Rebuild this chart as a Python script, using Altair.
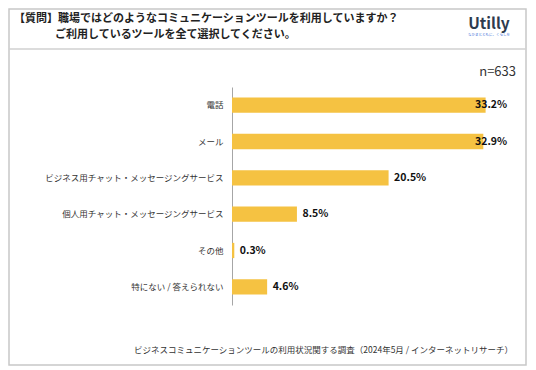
import altair as alt
import pandas as pd

categories = ["電話", "メール", "ビジネス用チャット・メッセージングサービス",
              "個人用チャット・メッセージングサービス", "その他", "特にない / 答えられない"]
values = [33.2, 32.9, 20.5, 8.5, 0.3, 4.6]

title1 = "【質問】職場ではどのようなコミュニケーションツールを利用していますか？"
title2 = "ご利用しているツールを全て選択してください。"
sample = "n=633"
source = "ビジネスコミュニケーションツールの利用状況関する調査（2024年5月 / インターネットリサーチ）"
logo = "Utilly"

df = pd.DataFrame({"cat": categories, "value": values})
df["label"] = [f"{v:.1f}%" for v in values]

FONT = "Noto Sans CJK JP"
W, H = 275, 218

x_scale = alt.Scale(domain=[0, 36], nice=False)
y_enc = alt.Y("cat:N", sort=categories,
              scale=alt.Scale(paddingInner=0.58, paddingOuter=0.29),
              axis=alt.Axis(title=None, ticks=False, labelPadding=9, labelFontSize=8.5,
                            labelColor="#333333", labelFont=FONT, domainColor="#a6a6a6",
                            domainWidth=1, labelLimit=300))

base = alt.Chart(df)
bars = base.mark_bar(color="#F5C242").encode(
    x=alt.X("value:Q", scale=x_scale, axis=None),
    y=y_enc,
)
labels = base.transform_calculate(lx="min(datum.value, 31.1)").mark_text(
    align="left", baseline="middle", dx=5.5, font=FONT, fontSize=10.5,
    fontWeight="bold", color="#111111"
).encode(
    x=alt.X("lx:Q", scale=x_scale, axis=None),
    y=alt.Y("cat:N", sort=categories),
    text="label:N",
)

one = pd.DataFrame({"a": [0]})
frame = alt.Chart(one).mark_rect(fill=None, stroke="#c8c8c8", strokeWidth=1.5).encode(
    x=alt.value(-223), x2=alt.value(294), y=alt.value(-78), y2=alt.value(278))
sep = alt.Chart(one).mark_rule(color="#d0d0d0", strokeWidth=1.5).encode(
    x=alt.value(-223), x2=alt.value(294), y=alt.value(-38))

def txt(t, x, y, size, weight="normal", align="left", color="#222222"):
    return alt.Chart(one).mark_text(
        text=t, align=align, baseline="middle", font=FONT, fontSize=size,
        fontWeight=weight, color=color
    ).encode(x=alt.value(x), y=alt.value(y))

t1 = txt(title1, -218, -68.5, 11, "bold")
t2 = txt(title2, -177, -52.5, 11, "bold")
lg = txt(logo, 257, -63, 15.5, "bold", "center", "#2d3b4e")
lg2 = txt("なかまとともに、くらしを", 257, -52, 3.5, "normal", "center", "#3a6fd8")
nn = txt(sample, 284, -15, 13, "normal", "right", "#333333")
ft = txt(source, 281, 263, 8.5, "normal", "right", "#333333")

chart = alt.layer(frame, sep, bars, labels, t1, t2, lg, lg2, nn, ft).properties(
    width=W, height=H,
    autosize=alt.AutoSizeParams(type="none"),
    padding={"left": 224, "top": 79, "right": 20, "bottom": 62},
    background="white",
).configure_view(stroke=None)

chart.save("out.html", embed_options={"renderer": "svg", "actions": False})
